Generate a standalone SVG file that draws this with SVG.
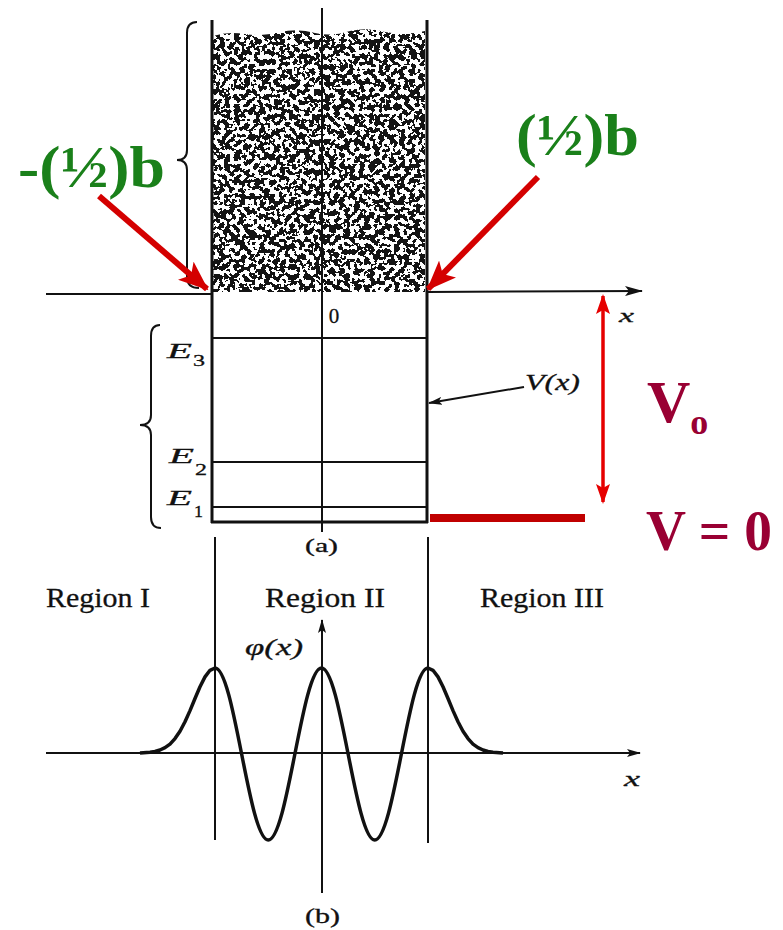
<svg xmlns="http://www.w3.org/2000/svg" width="783" height="930" viewBox="0 0 783 930">
<style>
.ln{stroke:#111;fill:none;stroke-width:2}
.thk{stroke:#111;fill:none;stroke-width:3}
.bk{font-family:"Liberation Serif",serif;fill:#111;stroke:#111;stroke-width:0.3}
.it{font-style:italic}
.grn{font-family:"Liberation Serif",serif;font-weight:bold;fill:#1a801a;font-size:60px}
.mar{font-family:"Liberation Serif",serif;font-weight:bold;fill:#990033}
.red{stroke:#d40000;stroke-width:6;fill:none}
</style>
<defs>
<marker id="ah" markerWidth="18" markerHeight="10" refX="17" refY="5" orient="auto" markerUnits="userSpaceOnUse"><path d="M0,0 L18,5 L0,10 L4,5 Z" fill="#111"/></marker>
<marker id="ahs" markerWidth="14" markerHeight="8" refX="13" refY="4" orient="auto" markerUnits="userSpaceOnUse"><path d="M0,0 L14,4 L0,8 L3,4 Z" fill="#111"/></marker>
<marker id="rah" markerWidth="30" markerHeight="24" refX="28" refY="12" orient="auto" markerUnits="userSpaceOnUse"><path d="M0,0 L30,12 L0,24 L7,12 Z" fill="#d40000"/></marker>
<marker id="rdh" markerWidth="20" markerHeight="14" refX="18" refY="7" orient="auto-start-reverse" markerUnits="userSpaceOnUse"><path d="M0,0 L20,7 L0,14 L4,7 Z" fill="#e60000"/></marker>
<filter id="grain" x="0" y="0" width="100%" height="100%" color-interpolation-filters="sRGB">
<feTurbulence type="fractalNoise" baseFrequency="0.2" numOctaves="2" seed="7" result="n"/>
<feColorMatrix in="n" type="matrix" values="0 0 0 0 0.08  0 0 0 0 0.08  0 0 0 0 0.08  1 0 0 0 0" result="a"/>
<feComponentTransfer><feFuncA type="discrete" tableValues="0 0 0 0 0 1 1 1 1 1"/></feComponentTransfer>
</filter>
<clipPath id="wellclip"><path d="M213,36 Q228,31 245,34 Q262,37 280,32 Q298,28 315,33 Q332,37 350,31 Q368,27 385,32 Q405,36 425,31 L425,292 L213,292 Z"/></clipPath>
</defs>

<g id="shading" clip-path="url(#wellclip)">
<rect x="213" y="25" width="213" height="268" fill="#fff" filter="url(#grain)"/>
</g>

<g id="well-a">
<line class="thk" x1="212" y1="20" x2="212" y2="523"/>
<line class="thk" x1="427" y1="20" x2="427" y2="523"/>
<line class="thk" x1="211" y1="522" x2="428" y2="522"/>
<line class="ln" x1="322" y1="8" x2="322" y2="532"/>
<line class="ln" x1="213" y1="338" x2="427" y2="338"/>
<line class="ln" x1="213" y1="462" x2="427" y2="462"/>
<line class="ln" x1="213" y1="507" x2="427" y2="507"/>
<text class="bk" x="334" y="323" font-size="21" text-anchor="middle">0</text>
<text class="bk it" x="167" y="358" font-size="20" textLength="25" lengthAdjust="spacingAndGlyphs">E</text>
<text class="bk" x="193" y="366" font-size="16" textLength="12" lengthAdjust="spacingAndGlyphs">3</text>
<text class="bk it" x="169" y="463" font-size="20" textLength="25" lengthAdjust="spacingAndGlyphs">E</text>
<text class="bk" x="195" y="475" font-size="16" textLength="12" lengthAdjust="spacingAndGlyphs">2</text>
<text class="bk it" x="167" y="505" font-size="20" textLength="25" lengthAdjust="spacingAndGlyphs">E</text>
<text class="bk" x="194" y="517" font-size="16" textLength="9" lengthAdjust="spacingAndGlyphs">1</text>
<text class="bk" x="305" y="552" font-size="18" textLength="33" lengthAdjust="spacingAndGlyphs">(a)</text>
<text class="bk it" x="525" y="390" font-size="24" textLength="55" lengthAdjust="spacingAndGlyphs">V(x)</text>
</g>

<g id="braces">
<path class="ln" d="M197,22 Q187,22 187,33 L187,150 Q187,160 177,160 Q187,160 187,170 L187,277 Q187,288 199,288"/>
<path class="ln" d="M160,325 Q151,325 151,336 L151,415 Q151,425 140,425 Q151,425 151,435 L151,517 Q151,528 161,528"/>
</g>

<g id="axis-a">
<line class="ln" x1="46" y1="294" x2="212" y2="294"/>
<line class="ln" x1="427" y1="292" x2="642" y2="291" marker-end="url(#ah)"/>
<text class="bk it" x="619" y="322" font-size="19" textLength="15" lengthAdjust="spacingAndGlyphs">x</text>
</g>

<g id="connectors">
<line class="ln" x1="524" y1="387" x2="429" y2="403" stroke-width="1.5" marker-end="url(#ahs)"/>
<line class="red" x1="99" y1="196" x2="207" y2="289" marker-end="url(#rah)"/>
<line class="red" x1="538" y1="177" x2="428" y2="289" marker-end="url(#rah)"/>
<line x1="603" y1="296" x2="603" y2="502" stroke="#e60000" stroke-width="3.5" marker-start="url(#rdh)" marker-end="url(#rdh)"/>
<line x1="430" y1="518" x2="585" y2="518" stroke="#c00000" stroke-width="8"/>
</g>

<g id="labels-red">
<text class="grn" x="18" y="187" textLength="147" lengthAdjust="spacingAndGlyphs">-(½)b</text>
<text class="grn" x="516" y="155" textLength="123" lengthAdjust="spacingAndGlyphs">(½)b</text>
<text class="mar" x="647" y="422" font-size="60">V<tspan font-size="36" dy="12">o</tspan></text>
<text class="mar" x="646" y="550" font-size="58" textLength="126" lengthAdjust="spacingAndGlyphs">V = 0</text>
</g>

<g id="plot-b">
<line class="ln" x1="215" y1="537" x2="215" y2="840"/>
<line class="ln" x1="428" y1="537" x2="428" y2="843"/>
<line class="ln" x1="322" y1="893" x2="322" y2="620" marker-end="url(#ahs)"/>
<line class="ln" x1="46" y1="753" x2="640" y2="753" marker-end="url(#ahs)"/>
<path d="M140,753 L150,752.2 L155,751.5 L160,750 L165,747.7 L170,744.1 L175,738.6 L180,731.2 L185,721.7 L190,710.6 L195,698.5 L200,686.8 L205,676.9 L210,670.3 L215,668 C234.35,668 248.9,840 268.25,840 C287.6,840 302.15,668 321.5,668 C340.85,668 355.4,840 374.75,840 C394.1,840 408.65,668 428,668 L433,670.3 L438,676.9 L443,686.8 L448,698.5 L453,710.6 L458,721.7 L463,731.2 L468,738.6 L473,744.1 L478,747.7 L483,750 L488,751.5 L493,752.2 L503,753" fill="none" stroke="#111" stroke-width="3.5" stroke-linejoin="round"/>
<text class="bk" x="46" y="607" font-size="28" textLength="104" lengthAdjust="spacingAndGlyphs">Region I</text>
<text class="bk" x="265" y="607" font-size="28" textLength="120" lengthAdjust="spacingAndGlyphs">Region II</text>
<text class="bk" x="480" y="607" font-size="28" textLength="124" lengthAdjust="spacingAndGlyphs">Region III</text>
<text class="bk it" x="245" y="655" font-size="24" textLength="58" lengthAdjust="spacingAndGlyphs">φ(x)</text>
<text class="bk it" x="624" y="786" font-size="22" textLength="16" lengthAdjust="spacingAndGlyphs">x</text>
<text class="bk" x="305" y="923" font-size="20" textLength="35" lengthAdjust="spacingAndGlyphs">(b)</text>
</g>
</svg>
